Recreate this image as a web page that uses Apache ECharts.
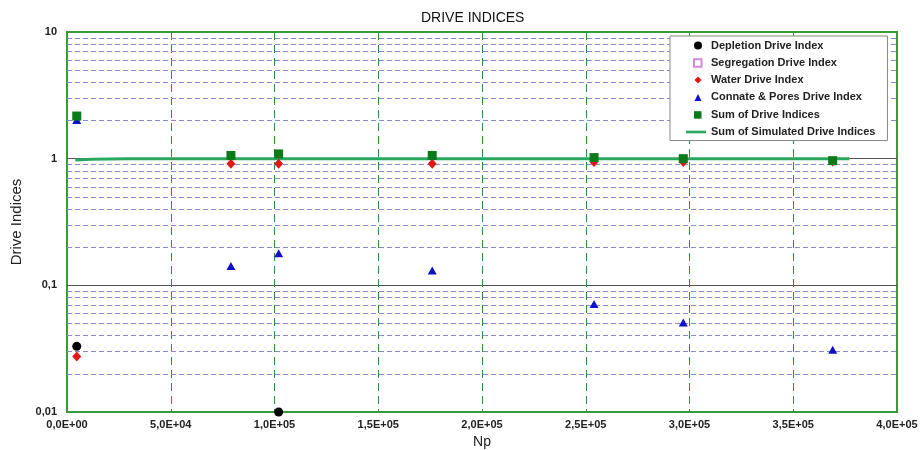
<!DOCTYPE html>
<html>
<head>
<meta charset="utf-8">
<script src="https://cdn.jsdelivr.net/npm/echarts@6/dist/echarts.min.js"></script>
<style>html,body{margin:0;padding:0;background:#fff}#c{width:922px;height:450px}</style>
</head>
<body>
<div id="c"></div>
<script>
// ---- data ----
var xTicks = [0, 50000, 100000, 150000, 200000, 250000, 300000, 350000, 400000];
var yTicks = [0.01, 0.1, 1, 10];
var minorGridValues = [0.02,0.03,0.04,0.05,0.06,0.07,0.08,0.09,0.2,0.3,0.4,0.5,0.6,0.7,0.8,0.9,2,3,4,5,6,7,8,9];

var depletionX = [4700, 102000];
var depletionY = [0.033, 0.01];

var segregationX = [];
var segregationY = [];

var waterX = [4700, 79000, 102000, 176000, 254000, 297000, 369000];
var waterY = [0.0274, 0.91, 0.91, 0.91, 0.94, 0.94, 0.95];

var connateX = [4700, 79000, 102000, 176000, 254000, 297000, 369000];
var connateY = [2.02, 0.142, 0.179, 0.131, 0.0713, 0.0508, 0.031];

var sumX = [4700, 79000, 102000, 176000, 254000, 297000, 369000];
var sumY = [2.17, 1.06, 1.09, 1.06, 1.02, 1.0, 0.965];

var simX = [4000, 12000, 30000, 80000, 150000, 250000, 300000, 377000];
var simY = [0.975, 0.99, 1.0, 1.0, 1.0, 1.0, 1.0, 1.0];

function pairs(xs, ys) { return xs.map(function (x, i) { return [x, ys[i]]; }); }

function fmtX(v) {
  if (v === 0) return '0,0E+00';
  var e = Math.floor(Math.log10(v) + 1e-9);
  var m = v / Math.pow(10, e);
  var es = (e < 10 ? '0' : '') + e;
  return m.toFixed(1).replace('.', ',') + 'E+' + es;
}
function fmtY(v) {
  return String(Number(v.toPrecision(3))).replace('.', ',');
}

// legend icons (box 20 x 8, symbol centred at x=12)
var PAD = 'M0 0 M20 8 ';
var iconCircle = 'path://' + PAD + 'M16 4 A4 4 0 1 1 8 4 A4 4 0 1 1 16 4 Z';
var iconSquare = 'path://' + PAD + 'M8 0.5 L15.5 0.5 L15.5 8 L8 8 Z';
var iconDiamond = 'path://' + PAD + 'M12 0.5 L15.5 4 L12 7.5 L8.5 4 Z';
var iconTriangle = 'path://' + PAD + 'M12 0.5 L15.5 7.5 L8.5 7.5 Z';
var iconLine = 'path://' + PAD + 'M0 2.6 L21 2.6 L21 5.4 L0 5.4 Z';

var chart = echarts.init(document.getElementById('c'), null, {renderer: 'canvas'});
var labelFont = {fontFamily: 'Liberation Sans, Arial, sans-serif', fontWeight: 'bold', fontSize: 11, color: '#222'};

chart.setOption({
  animation: false,
  backgroundColor: '#fff',
  title: {
    text: 'DRIVE INDICES', left: 416, top: 6,
    textStyle: {fontFamily: 'Liberation Sans, Arial, sans-serif', fontWeight: 'normal', fontSize: 14, color: '#111'}
  },
  grid: {
    left: 67, right: 25, top: 32, bottom: 38,
    containLabel: false, outerBoundsMode: 'none',
    show: true, backgroundColor: '#fff', borderColor: '#3a9a3a', borderWidth: 2
  },
  legend: {
    orient: 'vertical', left: 670, top: 36, z: 10,
    backgroundColor: '#fff', borderColor: '#888', borderWidth: 1,
    padding: [3, 12, 2, 15],
    itemWidth: 20, itemHeight: 8, itemGap: 4.3, symbolKeepAspect: true,
    textStyle: {fontFamily: 'Liberation Sans, Arial, sans-serif', fontWeight: 'bold', fontSize: 11, color: '#222', lineHeight: 13},
    data: [
      {name: 'Depletion Drive Index', icon: iconCircle},
      {name: 'Segregation Drive Index', icon: iconSquare},
      {name: 'Water Drive Index', icon: iconDiamond},
      {name: 'Connate & Pores Drive Index', icon: iconTriangle},
      {name: 'Sum of Drive Indices', icon: iconSquare},
      {name: 'Sum of Simulated Drive Indices', icon: iconLine}
    ]
  },
  xAxis: {
    type: 'value', min: 0, max: 400000, interval: 50000,
    name: 'Np', nameLocation: 'middle', nameGap: 21,
    nameTextStyle: {fontFamily: 'Liberation Sans, Arial, sans-serif', fontSize: 14, color: '#222'},
    axisLine: {show: false}, axisTick: {show: false},
    axisLabel: Object.assign({margin: 7, formatter: fmtX}, labelFont),
    splitLine: {show: true, showMinLine: false, showMaxLine: false,
      lineStyle: {color: '#2f8f3f', width: 1, type: [8, 5]}}
  },
  yAxis: {
    type: 'log', logBase: 10, min: 0.01, max: 10,
    name: 'Drive Indices', nameLocation: 'middle', nameGap: 41,
    nameTextStyle: {fontFamily: 'Liberation Sans, Arial, sans-serif', fontSize: 15, color: '#222'},
    axisLine: {show: false}, axisTick: {show: false},
    axisLabel: Object.assign({margin: 10, formatter: fmtY}, labelFont),
    splitLine: {show: true, showMinLine: false, showMaxLine: false,
      lineStyle: {color: '#555', width: 1}}
  },
  series: [
    {
      name: 'minorGrid', type: 'scatter', data: [], z: 0.5, silent: true,
      markLine: {
        silent: true, symbol: 'none', label: {show: false}, z: 0.5,
        lineStyle: {color: '#8a8ad0', width: 1, type: [5, 3]},
        data: minorGridValues.map(function (v) { return {yAxis: v}; })
      }
    },
    {
      name: 'Sum of Simulated Drive Indices', type: 'line', data: pairs(simX, simY),
      showSymbol: false, symbol: 'none', z: 1, clip: false,
      lineStyle: {color: '#2aa860', width: 3}, itemStyle: {color: '#2aa860'}
    },
    {
      name: 'Depletion Drive Index', type: 'scatter', data: pairs(depletionX, depletionY),
      symbol: 'circle', symbolSize: 9, clip: false, z: 3, itemStyle: {color: '#000', opacity: 1}
    },
    {
      name: 'Segregation Drive Index', type: 'scatter', data: pairs(segregationX, segregationY),
      symbol: 'rect', symbolSize: 8, clip: false,
      itemStyle: {color: '#fff', borderColor: '#d08ad8', borderWidth: 1, opacity: 1}
    },
    {
      name: 'Water Drive Index', type: 'scatter', data: pairs(waterX, waterY),
      symbol: 'diamond', symbolSize: [9, 10], clip: false, itemStyle: {color: '#e01818', opacity: 1}
    },
    {
      name: 'Connate & Pores Drive Index', type: 'scatter', data: pairs(connateX, connateY),
      symbol: 'triangle', symbolSize: [9, 8], clip: false, itemStyle: {color: '#1010c8', opacity: 1}
    },
    {
      name: 'Sum of Drive Indices', type: 'scatter', data: pairs(sumX, sumY),
      symbol: 'rect', symbolSize: 9, clip: false, itemStyle: {color: '#0d7a1a', opacity: 1}
    }
  ]
});
</script>
</body>
</html>
